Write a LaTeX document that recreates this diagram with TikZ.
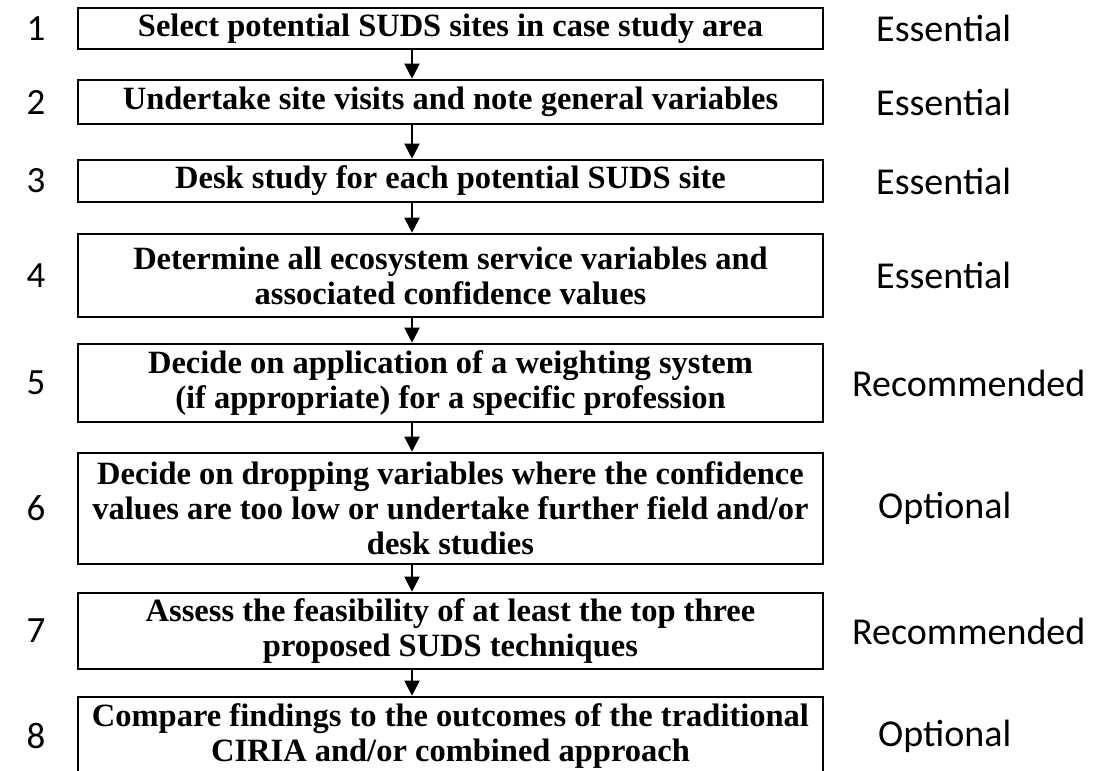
\documentclass[tikz,border=0pt]{standalone}
\usepackage{fontspec}
\setmainfont{Liberation Serif}
\newfontfamily\calib{Carlito}
\usetikzlibrary{arrows.meta}
\tikzset{
  stepbox/.style={draw=black, line width=2.6pt, minimum width=745pt, inner sep=0pt,
    align=center, font=\fontsize{32.5}{35}\selectfont\bfseries},
  numlab/.style={anchor=center, inner sep=0pt, font=\calib\fontsize{37}{40}\selectfont},
  levlab/.style={anchor=west, inner sep=0pt, font=\calib\fontsize{38}{42}\selectfont},
  arr/.style={line width=2pt, -{Triangle[width=15pt,length=15pt]}}
}
\begin{document}
\begin{tikzpicture}[x=1pt,y=-1pt]
\useasboundingbox (0,0) rectangle (1101,771);
\clip (0,0) rectangle (1101,771);
\coordinate (ax) at (412,0);
% boxes: centre y, height
\node[stepbox, minimum height=41pt] (b1) at (450.5,28.5) {Select potential SUDS sites in case study area};
\node[stepbox, minimum height=44pt] (b2) at (450.5,102) {Undertake site visits and note general variables};
\node[stepbox, minimum height=42pt] (b3) at (450.5,181) {Desk study for each potential SUDS site};
\node[stepbox, minimum height=83pt] (b4) at (450.5,275.5) {Determine all ecosystem service variables and\\associated confidence values};
\node[stepbox, minimum height=78pt] (b5) at (450.5,383) {Decide on application of a weighting system\\(if appropriate) for a specific profession};
\node[stepbox, minimum height=111pt] (b6) at (450.5,508.5) {Decide on dropping variables where the confidence\\values are too low or undertake further field and/or\\desk studies};
\node[stepbox, minimum height=76pt] (b7) at (450.5,631) {Assess the feasibility of at least the top three\\proposed SUDS techniques};
\node[stepbox, minimum height=78pt] (b8) at (450.5,736) {Compare findings to the outcomes of the traditional\\CIRIA and/or combined approach};
% step numbers
\node[numlab] (n1) at (36,28.5) {1};
\node[numlab] (n2) at (36,102) {2};
\node[numlab] (n3) at (36,181) {3};
\node[numlab] (n4) at (36,275.5) {4};
\node[numlab] (n5) at (36,383) {5};
\node[numlab] (n6) at (36,508.5) {6};
\node[numlab] (n7) at (36,631) {7};
\node[numlab] (n8) at (36,736) {8};
% levels
\node[levlab] (l1) at (876,28.5) {Essential};
\node[levlab] (l2) at (876,102) {Essential};
\node[levlab] (l3) at (876,181) {Essential};
\node[levlab] (l4) at (876,275.5) {Essential};
\node[levlab] (l5) at (852,383) {Recommended};
\node[levlab] (l6) at (878,508.5) {Optional};
\node[levlab] (l7) at (852,631) {Recommended};
\node[levlab] (l8) at (878,736) {Optional};
% arrows
\foreach \a/\b in {b1/b2,b2/b3,b3/b4,b4/b5,b5/b6,b6/b7,b7/b8}
  \draw[arr] (\a.south -| ax) -- (\b.north -| ax);
\end{tikzpicture}
\end{document}
